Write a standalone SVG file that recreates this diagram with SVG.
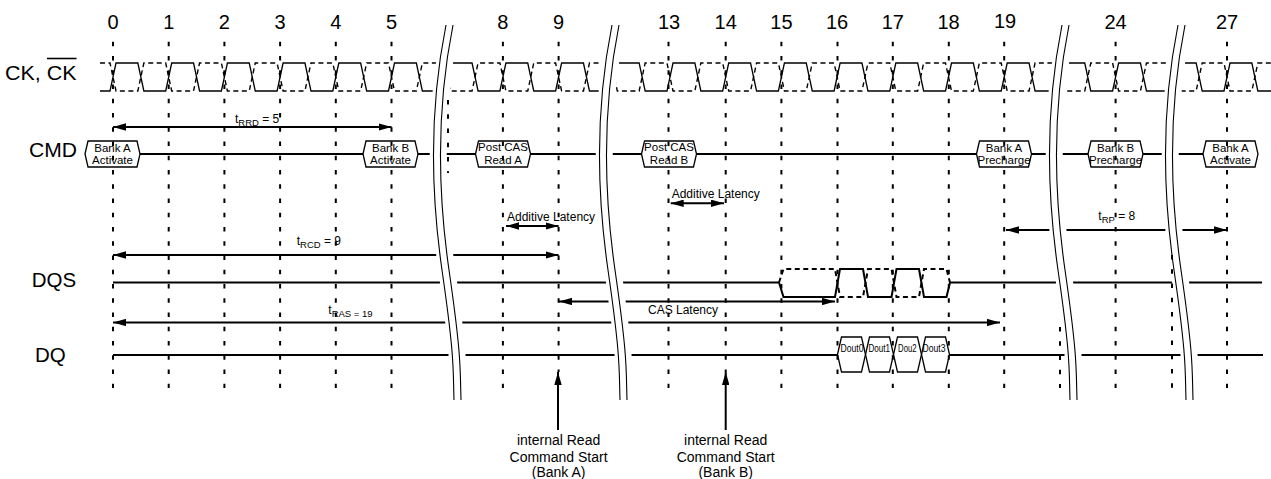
<svg xmlns="http://www.w3.org/2000/svg" xmlns:xlink="http://www.w3.org/1999/xlink" width="1271" height="479" viewBox="0 0 1271 479">
<style>
text{font-family:"Liberation Sans",Arial,Helvetica,sans-serif;fill:#000}
.lbl{font-size:20.5px}
.num{font-size:20px;text-anchor:middle}
.bx{font-size:11.5px;text-anchor:middle}
.ann{font-size:12px}
.sub{font-size:9.5px}
.bot{font-size:14px;text-anchor:middle}
.dout{font-size:10.5px;text-anchor:middle}
.sig{stroke:#000;stroke-width:2;fill:none}
.clk{stroke:#000;stroke-width:1.3;fill:none}
.clkd{stroke:#000;stroke-width:1.4;fill:none;stroke-dasharray:5 3.5}
.arr{stroke:#000;stroke-width:2;fill:none;marker-start:url(#ah);marker-end:url(#ah)}
.arr1{stroke:#000;stroke-width:2;fill:none;marker-end:url(#ah)}
.hex{fill:#fff;stroke:#000;stroke-width:1.3}
.grid line{stroke:#000;stroke-width:2;stroke-dasharray:4.5 9.75}
.bl{stroke:#000;stroke-width:1.1;fill:none}
</style>
<defs>
<marker id="ah" viewBox="0 0 13 7.4" refX="13" refY="3.7" markerWidth="13" markerHeight="7.4" markerUnits="userSpaceOnUse" orient="auto-start-reverse">
<path d="M0,0 L13,3.7 L0,7.4 z" fill="#000"/>
</marker>
<g id="brk">
<path d="M4.75,25 C-10.25,100 -12.25,180 0.75,270 S11.75,370 12.75,400" stroke="#fff" stroke-width="17" fill="none"/>
<path class="bl" d="M0,25 C-15,100 -17,180 -4,270 S7,370 8,400"/>
<path class="bl" d="M7,25 C-8,100 -10,180 3,270 S14,370 15,400"/>
</g>
<polygon id="cmdbox" points="-27.5,13 -24.5,0 24.5,0 27.5,13 24.5,26 -24.5,26" class="hex"/>
</defs>

<rect width="1271" height="479" fill="#fff"/>

<g id="labels">
<text class="lbl" x="5" y="80" textLength="71.5" lengthAdjust="spacingAndGlyphs">CK, CK</text>
<line x1="47" y1="58.5" x2="76.5" y2="58.5" stroke="#000" stroke-width="1.6"/>
<text class="lbl" x="29" y="157" textLength="48" lengthAdjust="spacingAndGlyphs">CMD</text>
<text class="lbl" x="31.7" y="286.7">DQS</text>
<text class="lbl" x="35" y="361.7">DQ</text>
</g>

<g id="cycle-numbers">
<text class="num" x="113" y="28.5">0</text>
<text class="num" x="168.7" y="28.5">1</text>
<text class="num" x="224.4" y="28.5">2</text>
<text class="num" x="280.1" y="28.5">3</text>
<text class="num" x="335.8" y="28.5">4</text>
<text class="num" x="391.5" y="28.5">5</text>
<text class="num" x="502.9" y="28.5">8</text>
<text class="num" x="558.6" y="28.5">9</text>
<text class="num" x="669" y="28.5">13</text>
<text class="num" x="725.7" y="28.5">14</text>
<text class="num" x="781.4" y="28.5">15</text>
<text class="num" x="837.1" y="28.5">16</text>
<text class="num" x="892.8" y="28.5">17</text>
<text class="num" x="948.5" y="28.5">18</text>
<text class="num" x="1005" y="27.5">19</text>
<text class="num" x="1115.6" y="28.5">24</text>
<text class="num" x="1227" y="28.5">27</text>
</g>

<g id="clock">
<path class="clk" d="M100,91 L110,91 L116,63 L137.85,63 L143.85,91 L165.7,91 L171.7,63 L193.55,63 L199.55,91 L221.4,91 L227.4,63 L249.25,63 L255.25,91 L277.1,91 L283.1,63 L304.95,63 L310.95,91 L332.8,91 L338.8,63 L360.65,63 L366.65,91 L388.5,91 L394.5,63 L416.35,63 L422.35,91 L444.2,91 L450.2,63 L472.05,63 L478.05,91 L499.9,91 L505.9,63 L527.75,63 L533.75,91 L555.6,91 L561.6,63 L583.45,63 L589.45,91 L611.3,91 L617.3,63 L639.15,63 L645.15,91 L667,91 L673,63 L694.85,63 L700.85,91 L722.7,91 L728.7,63 L750.55,63 L756.55,91 L778.4,91 L784.4,63 L806.25,63 L812.25,91 L834.1,91 L840.1,63 L861.95,63 L867.95,91 L889.8,91 L895.8,63 L917.65,63 L923.65,91 L945.5,91 L951.5,63 L973.35,63 L979.35,91 L1001.2,91 L1007.2,63 L1029.05,63 L1035.05,91 L1056.9,91 L1062.9,63 L1084.75,63 L1090.75,91 L1112.6,91 L1118.6,63 L1140.45,63 L1146.45,91 L1168.3,91 L1174.3,63 L1196.15,63 L1202.15,91 L1224,91 L1230,63 L1251.85,63 L1257.85,91 L1271,91"/>
<path class="clkd" d="M100,63 L110,63 L116,91 L137.85,91 L143.85,63 L165.7,63 L171.7,91 L193.55,91 L199.55,63 L221.4,63 L227.4,91 L249.25,91 L255.25,63 L277.1,63 L283.1,91 L304.95,91 L310.95,63 L332.8,63 L338.8,91 L360.65,91 L366.65,63 L388.5,63 L394.5,91 L416.35,91 L422.35,63 L444.2,63 L450.2,91 L472.05,91 L478.05,63 L499.9,63 L505.9,91 L527.75,91 L533.75,63 L555.6,63 L561.6,91 L583.45,91 L589.45,63 L611.3,63 L617.3,91 L639.15,91 L645.15,63 L667,63 L673,91 L694.85,91 L700.85,63 L722.7,63 L728.7,91 L750.55,91 L756.55,63 L778.4,63 L784.4,91 L806.25,91 L812.25,63 L834.1,63 L840.1,91 L861.95,91 L867.95,63 L889.8,63 L895.8,91 L917.65,91 L923.65,63 L945.5,63 L951.5,91 L973.35,91 L979.35,63 L1001.2,63 L1007.2,91 L1029.05,91 L1035.05,63 L1056.9,63 L1062.9,91 L1084.75,91 L1090.75,63 L1112.6,63 L1118.6,91 L1140.45,91 L1146.45,63 L1168.3,63 L1174.3,91 L1196.15,91 L1202.15,63 L1224,63 L1230,91 L1251.85,91 L1257.85,63 L1271,63"/>
</g>

<g id="signals">
<line class="sig" x1="140" y1="154" x2="1203" y2="154"/>
<path class="sig" d="M113,282.5 L779,282.5 L783.5,297 L835,297 L840,269 L863,269 L868,297 L891.5,297 L896.5,269 L919,269 L924,297 L946.5,297 L950,282.5 L1262,282.5"/>
<path class="clkd" style="stroke-width:2;stroke-dasharray:5 3.5" d="M779,282.5 L783.5,269 L835,269 L840,297 L863,297 L868,269 L891.5,269 L896.5,297 L919,297 L924,269 L946.5,269 L950,282.5"/>
<line class="sig" x1="113" y1="355" x2="837.5" y2="355"/>
<line class="sig" x1="949.5" y1="355" x2="1263" y2="355"/>
</g>

<g id="connectors">
<line class="arr" x1="113" y1="127" x2="391.5" y2="127"/>
<line class="arr" x1="113" y1="255" x2="558.6" y2="255"/>
<line class="arr" x1="113" y1="322.5" x2="1000" y2="322.5"/>
<line class="arr" x1="559" y1="301.5" x2="835" y2="301.5"/>
<line class="arr" x1="506" y1="226" x2="558.6" y2="226"/>
<line class="arr" x1="670.7" y1="203.3" x2="724" y2="203.3"/>
<line class="arr" x1="1006" y1="230" x2="1227" y2="230"/>
<line class="arr1" x1="558" y1="430" x2="558" y2="372"/>
<line class="arr1" x1="725.7" y1="430" x2="725.7" y2="372"/>
</g>

<g id="annotations">
<text class="ann" x="235" y="123">t<tspan class="sub" dy="3">RRD</tspan><tspan dy="-3"> = 5</tspan></text>
<text class="ann" x="296.7" y="245">t<tspan class="sub" dy="2.5">RCD</tspan><tspan dy="-2.5"> = 9</tspan></text>
<text class="ann" x="328.3" y="313.5">t<tspan class="sub" dy="3">RAS = 19</tspan></text>
<text class="ann" x="1098.3" y="220">t<tspan class="sub" dy="2.5">RP</tspan><tspan dy="-2.5"> = 8</tspan></text>
<text class="ann" x="507" y="220.5">Additive Latency</text>
<text class="ann" x="671.7" y="198">Additive Latency</text>
<text class="ann" x="648" y="314">CAS Latency</text>
<text class="bot" x="558.6" y="445">internal Read</text>
<text class="bot" x="558.6" y="461.5">Command Start</text>
<text class="bot" x="558.6" y="476.5">(Bank A)</text>
<text class="bot" x="725.7" y="445">internal Read</text>
<text class="bot" x="725.7" y="461.5">Command Start</text>
<text class="bot" x="725.7" y="476.5">(Bank B)</text>
</g>

<g id="breaks">
<use xlink:href="#brk" href="#brk" x="446" y="0"/>
<use xlink:href="#brk" href="#brk" x="612" y="0"/>
<use xlink:href="#brk" href="#brk" x="1062" y="0"/>
<use xlink:href="#brk" href="#brk" x="1178" y="0"/>
</g>

<g id="cmd-bank-a-activate" transform="translate(112.5,141)">
<use xlink:href="#cmdbox" href="#cmdbox"/>
<text class="bx" x="0" y="10.5">Bank A</text><text class="bx" x="0" y="22.5">Activate</text>
</g>
<g id="cmd-bank-b-activate" transform="translate(390.5,141)">
<use xlink:href="#cmdbox" href="#cmdbox"/>
<text class="bx" x="0" y="10.5">Bank B</text><text class="bx" x="0" y="22.5">Activate</text>
</g>
<g id="cmd-post-cas-read-a" transform="translate(503,141)">
<use xlink:href="#cmdbox" href="#cmdbox"/>
<text class="bx" x="0" y="10">Post CAS</text><text class="bx" x="0" y="22.5">Read A</text>
</g>
<g id="cmd-post-cas-read-b" transform="translate(669,141)">
<use xlink:href="#cmdbox" href="#cmdbox"/>
<text class="bx" x="0" y="10">Post CAS</text><text class="bx" x="0" y="22.5">Read B</text>
</g>
<g id="cmd-bank-a-precharge" transform="translate(1004,141)">
<use xlink:href="#cmdbox" href="#cmdbox"/>
<text class="bx" x="0" y="10.5">Bank A</text><text class="bx" x="0" y="22.5">Precharge</text>
</g>
<g id="cmd-bank-b-precharge" transform="translate(1115.5,141)">
<use xlink:href="#cmdbox" href="#cmdbox"/>
<text class="bx" x="0" y="10.5">Bank B</text><text class="bx" x="0" y="22.5">Precharge</text>
</g>
<g id="cmd-bank-a-activate-2" transform="translate(1230.5,141)">
<use xlink:href="#cmdbox" href="#cmdbox"/>
<text class="bx" x="0" y="10.5">Bank A</text><text class="bx" x="0" y="22.5">Activate</text>
</g>

<g id="dout0"><polygon class="hex" points="837.5,354.5 841.5,337 861.5,337 865.5,354.5 861.5,372 841.5,372"/><text class="dout" x="852" y="352" textLength="23" lengthAdjust="spacingAndGlyphs">Dout0</text></g>
<g id="dout1"><polygon class="hex" points="865.5,354.5 869.5,337 889.5,337 893.5,354.5 889.5,372 869.5,372"/><text class="dout" x="879.3" y="352" textLength="21.5" lengthAdjust="spacingAndGlyphs">Dout1</text></g>
<g id="dout2"><polygon class="hex" points="893.5,354.5 897.5,337 917.5,337 921.5,354.5 917.5,372 897.5,372"/><text class="dout" x="907.3" y="352" textLength="18.5" lengthAdjust="spacingAndGlyphs">Dou2</text></g>
<g id="dout3"><polygon class="hex" points="921.5,354.5 925.5,337 945.5,337 949.5,354.5 945.5,372 925.5,372"/><text class="dout" x="934" y="352" textLength="23" lengthAdjust="spacingAndGlyphs">Dout3</text></g>

<g class="grid" id="gridlines">
<line x1="113" y1="41.7" x2="113" y2="388"/>
<line x1="168.7" y1="41.7" x2="168.7" y2="388"/>
<line x1="224.4" y1="41.7" x2="224.4" y2="388"/>
<line x1="280.1" y1="41.7" x2="280.1" y2="388"/>
<line x1="335.8" y1="41.7" x2="335.8" y2="388"/>
<line x1="391.5" y1="41.7" x2="391.5" y2="388"/>
<line x1="448" y1="100" x2="448" y2="173"/>
<line x1="502.9" y1="41.7" x2="502.9" y2="388"/>
<line x1="558.6" y1="41.7" x2="558.6" y2="372"/>
<line x1="668.5" y1="41.7" x2="668.5" y2="388"/>
<line x1="725.7" y1="41.7" x2="725.7" y2="372"/>
<line x1="781.4" y1="41.7" x2="781.4" y2="388"/>
<line x1="837.5" y1="41.7" x2="837.5" y2="388"/>
<line x1="892.8" y1="41.7" x2="892.8" y2="388"/>
<line x1="948.8" y1="41.7" x2="948.8" y2="388"/>
<line x1="1004.2" y1="41.7" x2="1004.2" y2="388"/>
<line x1="1060" y1="327" x2="1060" y2="388"/>
<line x1="1115.6" y1="41.7" x2="1115.6" y2="388"/>
<line x1="1172" y1="255" x2="1172" y2="388"/>
<line x1="1227" y1="41.7" x2="1227" y2="388"/>
</g>
</svg>
